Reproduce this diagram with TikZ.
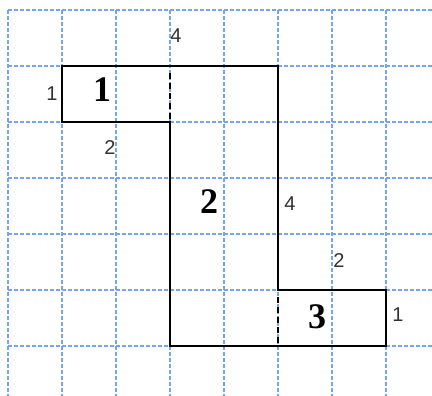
\documentclass[tikz,border=0pt]{standalone}
\usepackage{fontspec}
\setmainfont{Liberation Serif}
\newfontfamily\lblfont{Liberation Sans}
\definecolor{gridblue}{RGB}{115,165,240}
\definecolor{lblgray}{RGB}{50,50,50}
\begin{document}
\begin{tikzpicture}[x=1pt,y=-1pt,
  gridline/.style={draw=gridblue,line width=1.4pt,dash pattern=on 4pt off 2pt},
  outline/.style={draw=black,line width=1.7pt},
  cutline/.style={draw=black,line width=1.7pt,dash pattern=on 6pt off 4pt},
  bignum/.style={font=\fontsize{36}{36}\selectfont\bfseries,inner sep=0pt},
  smallnum/.style={font=\lblfont\fontsize{20}{20}\selectfont,text=lblgray,inner sep=0pt}]
\useasboundingbox (0,0) rectangle (432,396);
% grid
\foreach \gx in {8,62,116,170,224,278,332,386} {
  \draw[gridline] (\gx,10) -- (\gx,396);
}
\foreach \gy in {10,66,122,178,234,290,346} {
  \draw[gridline] (8,\gy) -- (432,\gy);
}
% shape
\coordinate (p1) at (62,66);
\coordinate (p2) at (278,66);
\coordinate (p3) at (278,290);
\coordinate (p4) at (386,290);
\coordinate (p5) at (386,346);
\coordinate (p6) at (170,346);
\coordinate (p7) at (170,122);
\coordinate (p8) at (62,122);
\coordinate (c1a) at (170,73);
\coordinate (c1b) at (170,122);
\coordinate (c2a) at (278,297);
\coordinate (c2b) at (278,346);
\draw[outline] (p1) -- (p2) -- (p3) -- (p4) -- (p5) -- (p6) -- (p7) -- (p8) -- cycle;
\draw[cutline] (c1a) -- (c1b);
\draw[cutline] (c2a) -- (c2b);
% big labels
\node[bignum] (n1) at (102,90) {1};
\node[bignum] (n2) at (209,201.5) {2};
\node[bignum] (n3) at (317,317) {3};
% small labels
\node[smallnum] (s1) at (176,36) {4};
\node[smallnum] (s2) at (52,93.5) {1};
\node[smallnum] (s3) at (110,148) {2};
\node[smallnum] (s4) at (290,204) {4};
\node[smallnum] (s5) at (339,261) {2};
\node[smallnum] (s6) at (398,315) {1};
\end{tikzpicture}
\end{document}
